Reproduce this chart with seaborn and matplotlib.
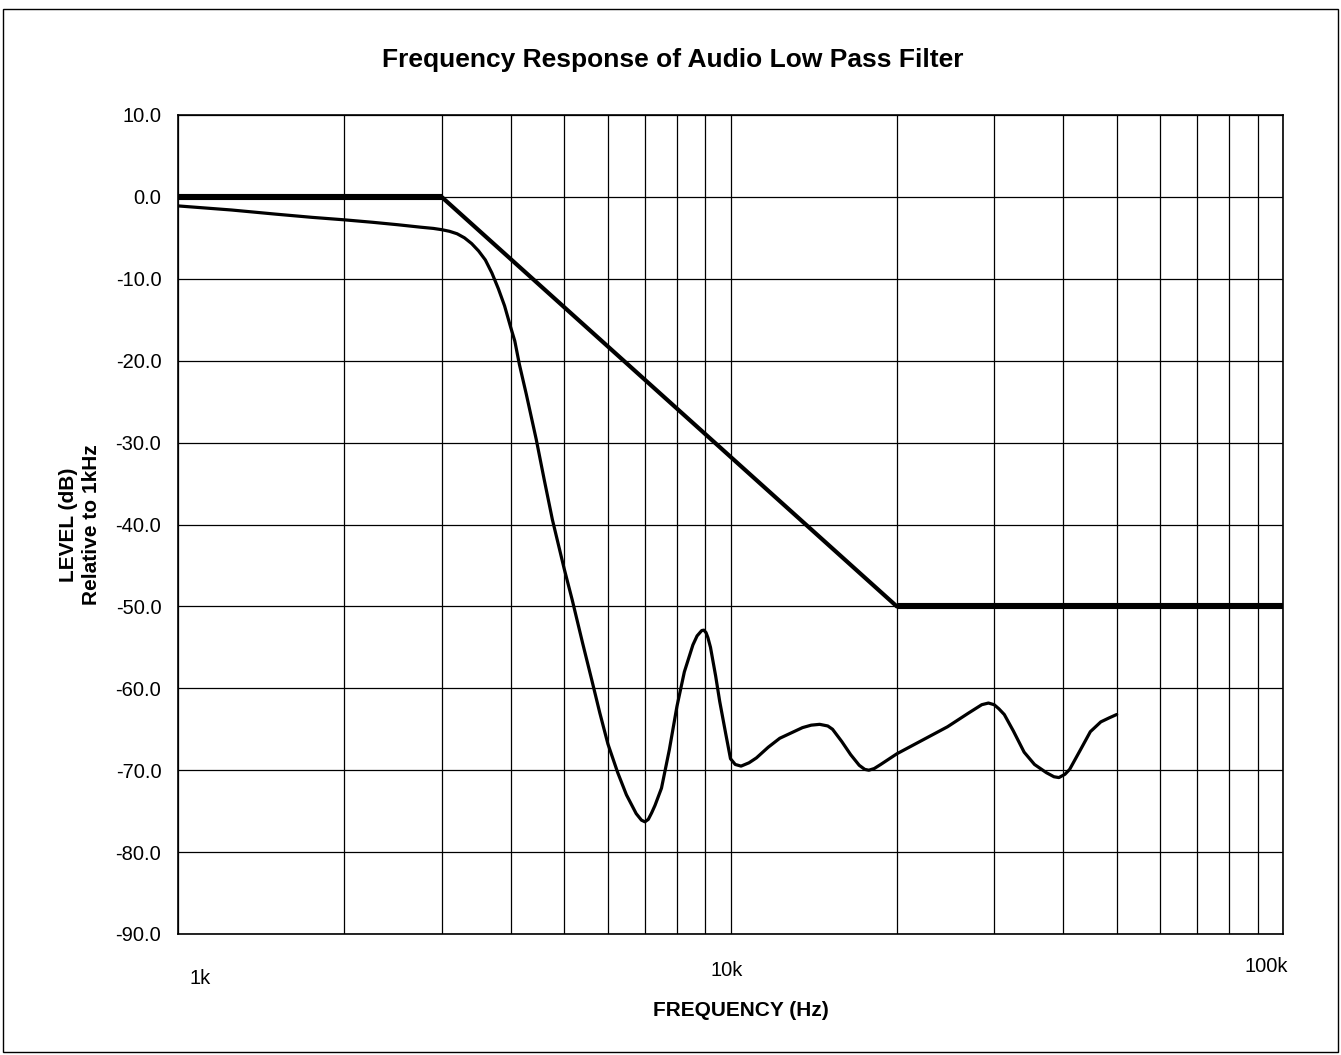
import numpy as np
import pandas as pd
import matplotlib
matplotlib.use("Agg")
import matplotlib.pyplot as plt
from matplotlib.patches import Rectangle
from matplotlib.ticker import FixedLocator, NullFormatter
import seaborn as sns

# ---------------- data ----------------
title = "Frequency Response of Audio Low Pass Filter"
x_label = "FREQUENCY (Hz)"
y_label = "LEVEL (dB)\nRelative to 1kHz"

limit_freq = [1000, 3000, 20000, 100000]
limit_db = [0.0, 0.0, -50.0, -50.0]

meas_freq = [1000, 1250, 1500, 1750, 2000, 2250, 2500, 2750, 2900, 3000,
             3100, 3200, 3300, 3400, 3500, 3600, 3700, 3800, 3900, 4000,
             4070, 4150, 4270, 4450, 4600, 4760, 5000, 5170, 5400, 5610,
             5800, 6000, 6250, 6480, 6750, 6900, 7000, 7100, 7200, 7300,
             7500, 7750, 8000, 8250, 8550, 8700, 8870, 8950, 9030, 9100,
             9200, 9400, 9560, 9800, 10000, 10200, 10450, 10800, 11140, 11700,
             12280, 13500, 14000, 14500, 15000, 15300, 15900, 16500, 17100, 17500,
             17800, 18200, 18700, 20000, 24700, 27000, 28500, 29300, 30000, 30600,
             31300, 32500, 34000, 35500, 37300, 38500, 39300, 40300, 41100, 43000,
             44800, 46800, 48500, 50000]
meas_db = [-1.1, -1.6, -2.1, -2.5, -2.8, -3.1, -3.4, -3.7, -3.85, -4.0,
           -4.2, -4.5, -5.0, -5.7, -6.6, -7.7, -9.3, -11.2, -13.3, -15.9,
           -17.6, -20.5, -24.1, -29.6, -34.5, -39.4, -45.4, -49.2, -54.5, -59.0,
           -63.0, -66.8, -70.3, -73.0, -75.3, -76.1, -76.3, -76.0, -75.2, -74.3,
           -72.2, -67.5, -62.2, -58.0, -54.7, -53.6, -52.95, -52.9, -53.2, -53.8,
           -55.0, -58.5, -61.6, -65.5, -68.6, -69.3, -69.5, -69.1, -68.5, -67.2,
           -66.1, -64.8, -64.5, -64.4, -64.6, -65.0, -66.5, -68.1, -69.4, -69.9,
           -70.0, -69.8, -69.3, -68.0, -64.7, -63.0, -62.0, -61.8, -62.0, -62.5,
           -63.2, -65.2, -67.8, -69.3, -70.3, -70.8, -70.9, -70.5, -69.9, -67.5,
           -65.3, -64.1, -63.6, -63.2]

y_ticks = [10.0, 0.0, -10.0, -20.0, -30.0, -40.0, -50.0, -60.0, -70.0, -80.0, -90.0]
x_major = [1000, 10000, 100000]
x_major_labels = ["1k", "10k", "100k"]

# ---------------- style ----------------
sns.set_style("white")
plt.rcParams['font.family'] = ['Liberation Sans', 'DejaVu Sans']
plt.rcParams['text.color'] = 'black'
plt.rcParams['axes.labelcolor'] = 'black'
plt.rcParams['xtick.color'] = 'black'
plt.rcParams['ytick.color'] = 'black'

W, H = 1341, 1055
fig = plt.figure(figsize=(W / 100, H / 100), dpi=100)
fig.patch.set_facecolor("white")
ax = fig.add_axes([178 / W, 1 - 934 / H, (1283 - 178) / W, (934 - 115) / H])

meas = pd.DataFrame({"freq": meas_freq, "db": meas_db})
lim = pd.DataFrame({"freq": limit_freq, "db": limit_db})

# limit line (diagonal part thinner, flat parts heavier)
sns.lineplot(data=lim, x="freq", y="db", ax=ax, color="black", lw=3.0,
             estimator=None, sort=False, zorder=4)
flat_mask = [i for i in range(len(limit_db) - 1) if limit_db[i] == limit_db[i + 1]]
for i in flat_mask:
    seg = lim.iloc[i:i + 2]
    sns.lineplot(data=seg, x="freq", y="db", ax=ax, color="black", lw=4.4,
                 estimator=None, sort=False, zorder=4, solid_capstyle="butt")

sns.lineplot(data=meas, x="freq", y="db", ax=ax, color="black", lw=2.3,
             estimator=None, sort=False, zorder=5, solid_joinstyle="round")

ax.set_xscale("log")
ax.set_xlim(1000, 100000)
ax.set_ylim(-90, 10)

minor = [m * 10 ** d for d in (3, 4) for m in range(2, 10)]
ax.xaxis.set_major_locator(FixedLocator(x_major))
ax.xaxis.set_minor_locator(FixedLocator(minor))
ax.xaxis.set_major_formatter(NullFormatter())
ax.xaxis.set_minor_formatter(NullFormatter())
ax.set_yticks(y_ticks)
ax.set_yticklabels([f"{v:.1f}" for v in y_ticks], fontsize=14.5)
ax.tick_params(axis="both", which="both", length=0)
ax.tick_params(axis="y", pad=12)

ax.grid(True, which="both", axis="x", color="black", lw=0.9)
ax.grid(True, which="major", axis="y", color="black", lw=0.9)
for s in ax.spines.values():
    s.set_visible(True)
    s.set_color("black")
    s.set_linewidth(1.2)

ax.set_xlabel("")
ax.set_ylabel("")

# x tick labels with the slight offsets seen in the reference
offsets = [(22, -44), (-4, -36), (-17, -33)]
for f, lab, (dx, dy) in zip(x_major, x_major_labels, offsets):
    ax.annotate(lab, xy=(f, 0), xycoords=("data", "axes fraction"),
                xytext=(dx, dy), textcoords="offset pixels",
                ha="center", va="center", fontsize=14.5)

fig.text(673 / W, 1 - 60 / H, title, ha="center", va="center",
         fontsize=19, fontweight="bold")
fig.text(741 / W, 1 - 1010 / H, x_label, ha="center", va="center",
         fontsize=15, fontweight="bold")
fig.text(80 / W, 1 - 525 / H, y_label, ha="center", va="center",
         rotation=90, fontsize=15, fontweight="bold", multialignment="center",
         linespacing=1.25)

fig.patches.append(Rectangle((3 / W, 3 / H), 1335 / W, 1043 / H,
                             transform=fig.transFigure, fill=False,
                             edgecolor="black", lw=1.0))

fig.savefig("out.png", dpi=100, facecolor="white")
